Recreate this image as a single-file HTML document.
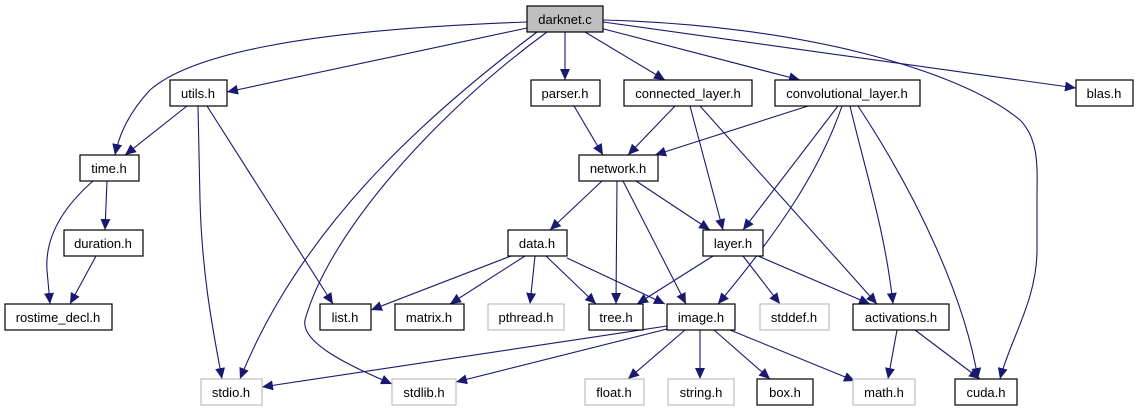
<!DOCTYPE html>
<html><head><meta charset="utf-8"><style>
html,body{margin:0;padding:0;background:#fff;width:1137px;height:411px;overflow:hidden}
text{font-family:"Liberation Sans",Helvetica,sans-serif;font-size:13px;text-anchor:middle}
</style></head><body>
<svg width="1137" height="411" viewBox="0 0 1137 411" xmlns="http://www.w3.org/2000/svg">
<defs><marker id="a" markerUnits="userSpaceOnUse" markerWidth="12" markerHeight="10" refX="11" refY="5" orient="auto"><path d="M0,0 L11,5 L0,10 z" fill="#191970"/></marker></defs>
<g fill="none" stroke="#191970" stroke-width="1.1" marker-end="url(#a)">
<path d="M527,22 C300,30 190,55 150,90 Q122,120 115,155"/>
<path d="M527,28 L227,92"/>
<path d="M537,32 C420,120 300,230 240,379"/>
<path d="M547,32 C440,110 330,230 305,320 C300,345 360,370 392,384"/>
<path d="M565,32 L565,80"/>
<path d="M585,32 L665,80"/>
<path d="M600,28 L800,80"/>
<path d="M603,22 L1076,88"/>
<path d="M603,20 C800,25 960,70 1020,120 C1040,140 1037,170 1037,200 L1037,250 C1037,300 1010,340 1000,379"/>
<path d="M187,106 L125,155"/>
<path d="M198,106 L200,200 C202,280 215,340 222,379"/>
<path d="M207,106 L333,304"/>
<path d="M93,181 C60,210 45,240 47,270 L50,304"/>
<path d="M107,181 L105,230"/>
<path d="M96,256 L70,304"/>
<path d="M574,106 L603,155"/>
<path d="M675,106 L628,155"/>
<path d="M808,106 L655,155"/>
<path d="M690,106 L723,230"/>
<path d="M700,106 L877,304"/>
<path d="M838,106 L743,230"/>
<path d="M842,106 C820,170 780,230 718,304"/>
<path d="M850,106 C865,170 885,230 893,304"/>
<path d="M858,106 C920,200 965,300 978,379"/>
<path d="M602,181 L550,230"/>
<path d="M617,181 L616,304"/>
<path d="M623,181 L686,304"/>
<path d="M636,181 L710,230"/>
<path d="M511,256 L371,310"/>
<path d="M525,256 L450,304"/>
<path d="M535,256 L530,304"/>
<path d="M546,256 L596,304"/>
<path d="M567,258 L665,304"/>
<path d="M713,256 L637,304"/>
<path d="M743,256 L780,304"/>
<path d="M758,256 L870,304"/>
<path d="M667,326 L262,387"/>
<path d="M667,329 L456,382"/>
<path d="M685,330 L628,379"/>
<path d="M700,330 L700,379"/>
<path d="M714,330 L770,379"/>
<path d="M730,330 L855,381"/>
<path d="M897,330 L888,379"/>
<path d="M915,330 L980,379"/>
</g>
<g stroke-width="1.2">
<rect x="527" y="6" width="76" height="26" fill="#bfbfbf" stroke="#000"/>
<g fill="#fff" stroke="#000">
<rect x="170" y="80" width="57" height="26"/>
<rect x="531" y="80" width="69" height="26"/>
<rect x="624" y="80" width="128" height="26"/>
<rect x="775" y="80" width="145" height="26"/>
<rect x="1076" y="80" width="57" height="26"/>
<rect x="80" y="155" width="59" height="26"/>
<rect x="579" y="155" width="79" height="26"/>
<rect x="64" y="230" width="79" height="26"/>
<rect x="508" y="230" width="59" height="26"/>
<rect x="703" y="230" width="60" height="26"/>
<rect x="5" y="304" width="107" height="26"/>
<rect x="320" y="304" width="51" height="26"/>
<rect x="395" y="304" width="69" height="26"/>
<rect x="589" y="304" width="54" height="26"/>
<rect x="667" y="304" width="68" height="26"/>
<rect x="853" y="304" width="96" height="26"/>
<rect x="757" y="379" width="56" height="26"/>
<rect x="955" y="379" width="62" height="26"/>
</g>
<g fill="#fff" stroke="#bfbfbf">
<rect x="488" y="304" width="76" height="26"/>
<rect x="760" y="304" width="69" height="26"/>
<rect x="201" y="379" width="61" height="26"/>
<rect x="392" y="379" width="64" height="26"/>
<rect x="585" y="379" width="59" height="26"/>
<rect x="668" y="379" width="66" height="26"/>
<rect x="853" y="379" width="62" height="26"/>
</g>
</g>
<g fill="#000">
<text x="565" y="24">darknet.c</text>
<text x="198" y="98">utils.h</text>
<text x="565" y="98">parser.h</text>
<text x="688" y="98">connected_layer.h</text>
<text x="847" y="98">convolutional_layer.h</text>
<text x="1104" y="98">blas.h</text>
<text x="109" y="173">time.h</text>
<text x="618" y="173">network.h</text>
<text x="103" y="248">duration.h</text>
<text x="537" y="248">data.h</text>
<text x="733" y="248">layer.h</text>
<text x="58" y="322">rostime_decl.h</text>
<text x="345" y="322">list.h</text>
<text x="429" y="322">matrix.h</text>
<text x="526" y="322">pthread.h</text>
<text x="616" y="322">tree.h</text>
<text x="701" y="322">image.h</text>
<text x="794" y="322">stddef.h</text>
<text x="901" y="322">activations.h</text>
<text x="231" y="397">stdio.h</text>
<text x="424" y="397">stdlib.h</text>
<text x="614" y="397">float.h</text>
<text x="701" y="397">string.h</text>
<text x="785" y="397">box.h</text>
<text x="884" y="397">math.h</text>
<text x="986" y="397">cuda.h</text>
</g>
</svg>
</body></html>
